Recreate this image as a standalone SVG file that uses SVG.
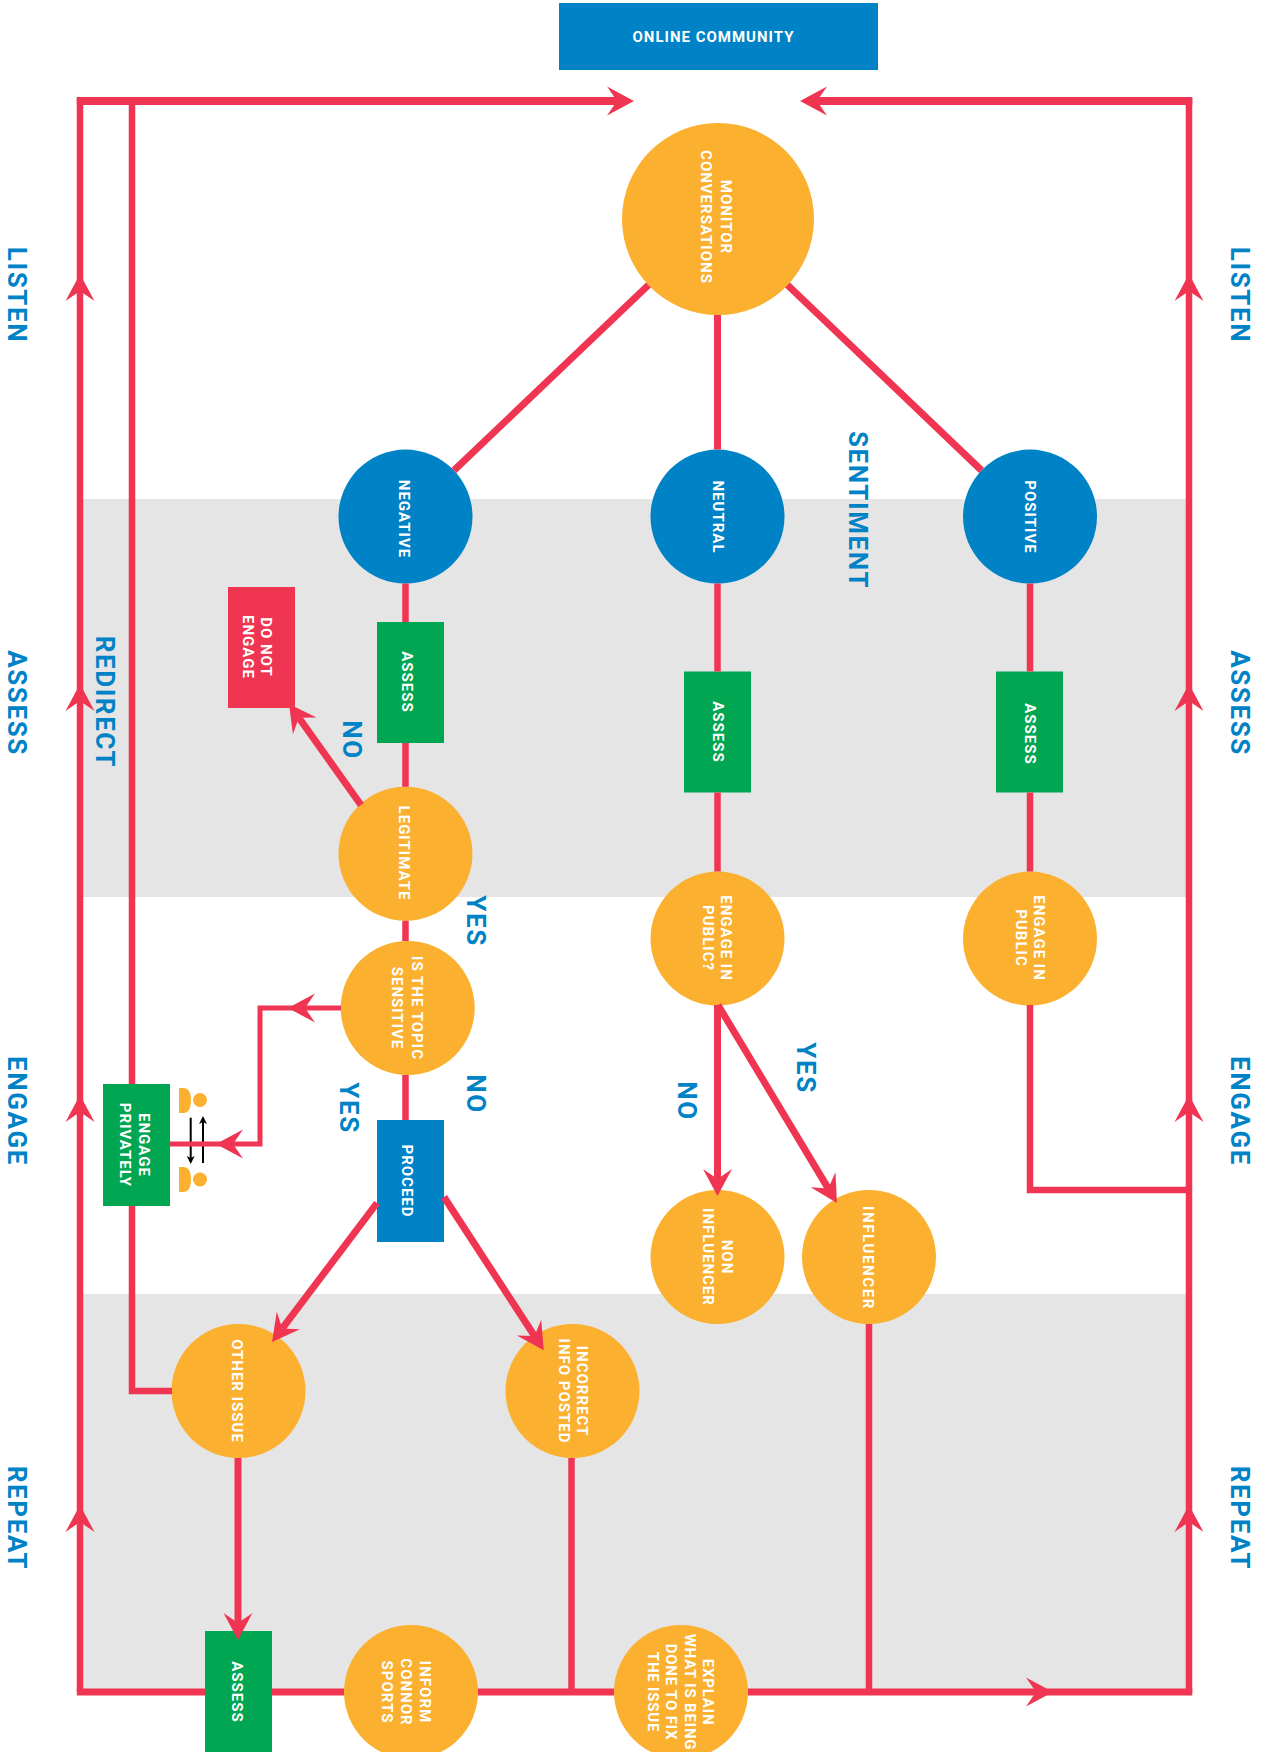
<svg xmlns="http://www.w3.org/2000/svg" width="1266" height="1752" viewBox="0 0 1266 1752">
<style>
.band{fill:#e5e5e5}
.o{fill:#fcb030}.b{fill:#0082c6}.g{fill:#00a651}.r{fill:#f03552}
.t{font-family:"Roboto","Liberation Sans",sans-serif;font-weight:700;font-size:15px;letter-spacing:1px;fill:#fff;text-anchor:middle}
.w{font-size:15px;letter-spacing:.8px}
.h{font-family:"Roboto","Liberation Sans",sans-serif;font-weight:700;font-size:26px;letter-spacing:1.600px;fill:#0082c6;text-anchor:middle}
.c{fill:none;stroke:#f03552;stroke-width:6.500}
.d{stroke-width:7}
.th{stroke-width:5}
.top{stroke-width:8}
.k{fill:none;stroke:#000;stroke-width:2}
</style>
<defs>
<marker id="ah" markerUnits="userSpaceOnUse" markerWidth="30" markerHeight="32" viewBox="0 0 30 32" refX="10" refY="16" orient="auto"><path d="M0,1.500 L27,16 L0,30.500 L10,16 Z" fill="#f03552"/></marker>
<marker id="ak" markerUnits="userSpaceOnUse" markerWidth="9" markerHeight="10" viewBox="0 0 9 10" refX="4" refY="5" orient="auto"><path d="M0,1 L8,5 L0,9 L2,5 Z" fill="#000"/></marker>
</defs>
<rect width="1266" height="1752" fill="#fff"/>
<g id="bands">
<rect class="band" x="83" y="499" width="1103" height="398"/>
<rect class="band" x="83" y="1294" width="1103" height="398"/>
</g>
<g id="monitor"><circle class="o" cx="718" cy="219" r="96"/><text class="t" transform="translate(716,217) rotate(90)"><tspan x="0" y="-5">MONITOR</tspan><tspan x="0" y="15">CONVERSATIONS</tspan></text></g>
<g id="online"><rect class="b" x="559" y="3" width="319" height="67"/><text class="t" x="713.500" y="42">ONLINE COMMUNITY</text></g>
<g id="negative"><circle class="b" cx="405.500" cy="516.600" r="67"/><text class="t" transform="translate(404,519) rotate(90)" y="5">NEGATIVE</text></g>
<g id="neutral"><circle class="b" cx="717.500" cy="516.600" r="67"/><text class="t" transform="translate(717.500,517) rotate(90)" y="5">NEUTRAL</text></g>
<g id="positive"><circle class="b" cx="1030" cy="516.600" r="67"/><text class="t" transform="translate(1030,517) rotate(90)" y="5">POSITIVE</text></g>
<g id="donot"><rect class="r" x="228" y="587" width="67" height="121"/><text class="t" transform="translate(256,647) rotate(90)"><tspan x="0" y="-5">DO NOT</tspan><tspan x="0" y="13">ENGAGE</tspan></text></g>
<g id="assess-neg"><rect class="g" x="377" y="622" width="67" height="121"/><text class="t" transform="translate(407,682) rotate(90)" y="5">ASSESS</text></g>
<g id="assess-neu"><rect class="g" x="684" y="671.500" width="67" height="121"/><text class="t" transform="translate(717.500,732) rotate(90)" y="5">ASSESS</text></g>
<g id="assess-pos"><rect class="g" x="996" y="671.500" width="67" height="121"/><text class="t" transform="translate(1030,734) rotate(90)" y="5">ASSESS</text></g>
<g id="legitimate"><circle class="o" cx="405.500" cy="853.700" r="67"/><text class="t" transform="translate(403.500,853) rotate(90)" y="5">LEGITIMATE</text></g>
<g id="public-q"><circle class="o" cx="717.500" cy="938.600" r="67"/><text class="t" transform="translate(711,938) rotate(90)"><tspan x="0" y="-10">ENGAGE IN</tspan><tspan x="0" y="8">PUBLIC?</tspan></text></g>
<g id="public"><circle class="o" cx="1030" cy="938.600" r="67"/><text class="t" transform="translate(1024,938) rotate(90)"><tspan x="0" y="-10">ENGAGE IN</tspan><tspan x="0" y="8">PUBLIC</tspan></text></g>
<g id="topic"><circle class="o" cx="407.700" cy="1008" r="67"/><text class="t" transform="translate(401.500,1008) rotate(90)"><tspan x="0" y="-10">IS THE TOPIC</tspan><tspan x="0" y="10">SENSITIVE</tspan></text></g>
<g id="proceed"><rect class="b" x="377" y="1120" width="67" height="122"/><text class="t" transform="translate(407,1181) rotate(90)" y="5">PROCEED</text></g>
<g id="privately"><rect class="g" x="103" y="1084" width="67" height="122"/><text class="t" transform="translate(130.500,1145) rotate(90)"><tspan x="0" y="-8">ENGAGE</tspan><tspan x="0" y="11">PRIVATELY</tspan></text></g>
<g id="people">
<path class="o" d="M179,1088 H183 Q191,1088 191,1100 Q191,1113 183,1113 H179 Z"/><circle class="o" cx="200" cy="1100" r="7"/>
<path class="o" d="M179,1167 H183 Q191,1167 191,1179.500 Q191,1192 183,1192 H179 Z"/><circle class="o" cx="200" cy="1179.500" r="7"/>
<path class="k" d="M190.700,1117.700 V1160" marker-end="url(#ak)"/>
<path class="k" d="M203,1163 V1120" marker-end="url(#ak)"/>
</g>
<g id="noninfluencer"><circle class="o" cx="717.500" cy="1257" r="67"/><text class="t" transform="translate(712,1257) rotate(90)"><tspan x="0" y="-10">NON</tspan><tspan x="0" y="9">INFLUENCER</tspan></text></g>
<g id="influencer"><circle class="o" cx="869" cy="1257" r="67"/><text class="t" transform="translate(868,1258) rotate(90)" y="5" style="letter-spacing:1.600px">INFLUENCER</text></g>
<g id="other"><circle class="o" cx="238.500" cy="1391" r="67"/><text class="t" transform="translate(231,1391) rotate(90)" y="-1">OTHER ISSUE</text></g>
<g id="incorrect"><circle class="o" cx="572.500" cy="1391" r="67"/><text class="t" transform="translate(566.500,1391) rotate(90)"><tspan x="0" y="-10">INCORRECT</tspan><tspan x="0" y="8">INFO POSTED</tspan></text></g>
<g id="assess-bottom"><rect class="g" x="205" y="1631" width="67" height="121"/><text class="t" transform="translate(237,1692) rotate(90)" y="5">ASSESS</text></g>
<g id="inform"><circle class="o" cx="411" cy="1692" r="67"/><text class="t" transform="translate(401,1692) rotate(90)"><tspan x="0" y="-19">INFORM</tspan><tspan x="0" y="0">CONNOR</tspan><tspan x="0" y="19">SPORTS</tspan></text></g>
<g id="explain"><circle class="o" cx="681" cy="1692" r="67"/><text class="t w" transform="translate(675,1692) rotate(90)"><tspan x="0" y="-28">EXPLAIN</tspan><tspan x="0" y="-10">WHAT IS BEING</tspan><tspan x="0" y="9">DONE TO FIX</tspan><tspan x="0" y="27">THE ISSUE</tspan></text></g>
<g id="labels">
<text class="h" transform="translate(17,295) rotate(90)" y="9">LISTEN</text>
<text class="h" transform="translate(17,703) rotate(90)" y="9">ASSESS</text>
<text class="h" transform="translate(17,1111) rotate(90)" y="9">ENGAGE</text>
<text class="h" transform="translate(17,1518) rotate(90)" y="9">REPEAT</text>
<text class="h" transform="translate(1240,295) rotate(90)" y="9">LISTEN</text>
<text class="h" transform="translate(1240,703) rotate(90)" y="9">ASSESS</text>
<text class="h" transform="translate(1240,1111) rotate(90)" y="9">ENGAGE</text>
<text class="h" transform="translate(1240,1518) rotate(90)" y="9">REPEAT</text>
<text class="h" transform="translate(858,510) rotate(90)" y="9">SENTIMENT</text>
<text class="h" transform="translate(105,702) rotate(90)" y="9">REDIRECT</text>
<text class="h" transform="translate(352,740) rotate(90)" y="9">NO</text>
<text class="h" transform="translate(476,921) rotate(90)" y="9">YES</text>
<text class="h" transform="translate(476,1094) rotate(90)" y="9">NO</text>
<text class="h" transform="translate(349,1108) rotate(90)" y="9">YES</text>
<text class="h" transform="translate(687,1101) rotate(90)" y="9">NO</text>
<text class="h" transform="translate(806,1068) rotate(90)" y="9">YES</text>
</g>
<g id="connectors">
<path class="c d" d="M648.500,285 L454,470.400"/>
<path class="c d" d="M717.500,315 V449.600"/>
<path class="c d" d="M787.500,285 L981.500,470.400"/>
<path class="c" d="M405.500,583.600 V622 M405.500,743 V786.700 M405.500,920.700 V941 M405.500,1075 V1120"/>
<path class="c" d="M717.500,583.600 V671.500 M717.500,792.500 V871.600"/>
<path class="c" d="M1030,583.600 V671.500 M1030,792.500 V871.600"/>
<path class="c d" d="M361,805 L298.900,717.800" marker-end="url(#ah)"/>
<path class="c th" d="M341,1008 H305" marker-end="url(#ah)"/>
<path class="c th" d="M306,1008 H260 V1144 H233" marker-end="url(#ah)"/>
<path class="c th" d="M234,1144 H170"/>
<path class="c d" d="M377,1203 L282.300,1328.400" marker-end="url(#ah)"/>
<path class="c d" d="M444,1197 L534.500,1336" marker-end="url(#ah)"/>
<path class="c d" d="M717.500,1005 V1179" marker-end="url(#ah)"/>
<path class="c d" d="M718,1005 L828.200,1188.400" marker-end="url(#ah)"/>
<path class="c" d="M1030,1005 V1190 H1189"/>
<path class="c" d="M132,1084 V101"/>
<path class="c" d="M132,1206 V1391 H172"/>
<path class="c d" d="M238,1458 V1623" marker-end="url(#ah)"/>
<path class="c" d="M571.500,1458 V1692"/>
<path class="c" d="M869,1324 V1692"/>
<path class="c d" d="M76.800,1692 H205 M272,1692 H344 M478,1692 H614"/>
<path class="c d" d="M748,1692 H1036" marker-end="url(#ah)"/>
<path class="c d" d="M1036,1692 H1192.300"/>
<path class="c" d="M80,1692 V1522 V1112 V701 V291 V98" marker-mid="url(#ah)"/>
<path class="c" d="M1189,1692 V1522 V1112 V701 V291 V98" marker-mid="url(#ah)"/>
<path class="c top" d="M76.800,101 H617" marker-end="url(#ah)"/>
<path class="c top" d="M1192.300,101 H817" marker-end="url(#ah)"/>
</g>
</svg>
